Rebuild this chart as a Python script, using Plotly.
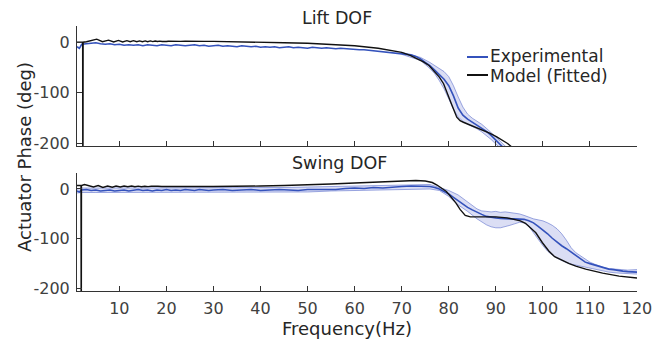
import plotly.graph_objects as go
from plotly.subplots import make_subplots

# ---------------- data ----------------
# Lift DOF, experimental (mean)
lift_exp_f = [1, 1.5, 2, 3, 4, 5, 6, 7, 8, 9, 10, 11, 12, 13, 14, 15, 16, 17, 18, 19, 20,
              21, 22, 23, 24, 25, 26, 27, 28, 29, 30, 31, 32, 33, 34, 35, 36, 37, 38, 39, 40,
              41, 42, 43, 44, 45, 46, 47, 48, 49, 50, 51, 52, 53, 54, 55, 56, 57, 58, 59, 60,
              61, 62, 63, 64, 65, 66, 67, 68, 69, 70, 71, 72, 73, 74, 75, 76, 77, 78, 79, 80,
              81, 82, 83, 84, 85, 86, 87, 88, 89, 90, 91, 92]
lift_exp_v = [-9, -12, -4, -3, -2, -1, -3, -4, -3, -5, -4, -6, -5, -6, -5, -7, -5, -6, -7, -5, -6,
              -7, -5, -6, -7, -6, -5, -7, -6, -8, -7, -6, -8, -7, -8, -9, -7, -8, -9, -8, -10,
              -9, -10, -9, -11, -10, -9, -11, -10, -11, -12, -10, -11, -12, -11, -12, -13, -12, -13, -14, -14,
              -15, -15, -16, -17, -17, -18, -19, -20, -21, -22, -23, -25, -28, -33, -40, -46, -55, -64, -73, -86,
              -106, -130, -144, -152, -158, -163, -169, -176, -184, -193, -203, -212]
# Lift DOF, experimental spread
lift_band_f = [70, 74, 76, 77, 78, 79, 80, 81, 82, 83, 84, 85, 86, 87, 88, 89, 90, 91, 92, 93]
lift_band_hi = [-20, -30, -40, -46, -52, -58, -68, -86, -108, -128, -142, -150, -156, -162, -170, -178, -187, -196, -205, -214]
lift_band_lo = [-24, -36, -52, -62, -76, -92, -112, -132, -148, -156, -162, -166, -171, -177, -184, -192, -201, -210, -218, -226]
# Lift DOF, fitted model
lift_mod_f = [1.0, 2.2, 2.25, 2.3, 3, 4, 5.2, 6.4, 7.7, 8.8, 9.8, 10.7, 11.6, 12.3, 13.0, 13.7, 14.3,
              14.9, 15.5, 16.0, 16.6, 17.1, 17.6, 18.1, 18.6, 19.1, 19.5, 20.0, 20.4, 21, 22, 23, 24,
              25, 26, 27, 28, 30, 35, 40, 45, 50, 55, 60, 65, 70, 71.8, 73, 74.6, 75.8, 76.8, 78,
              78.9, 79.9, 80.7, 81.7, 82.4, 83.1, 84.6, 86.0, 87.4, 88.8, 90.2, 91.6, 92.5, 93.4, 94]
lift_mod_v = [0, 0, -400, 0, 1, 3, 6, 1, 4, 0.5, 3.5, 0.5, 3, 1, 3, 1, 2.5,
              1, 2.5, 1, 2.5, 1.2, 2.3, 1.3, 2.2, 1.4, 2.1, 1.5, 2, 1.6, 2, 1.6, 1.9,
              1.6, 1.8, 1.6, 1.7, 1.6, 1.2, 0, -1, -2, -4, -7, -12, -20, -26, -31, -39, -46, -56, -69,
              -82, -108, -125, -148, -155, -158, -164, -169, -174, -180, -187, -194, -200, -207, -212]

# Swing DOF, experimental (mean)
swing_exp_f = [1, 1.5, 2, 3, 4, 5, 6, 7, 8, 9, 10, 11, 12, 13, 14, 15, 16, 17, 18, 19, 20,
               21, 22, 23, 24, 25, 26, 27, 28, 29, 30, 32, 34, 36, 38, 40, 42, 44, 46, 48, 50,
               52, 54, 56, 58, 60, 62, 64, 66, 68, 70, 72, 74, 76, 77, 78, 79, 80,
               81, 82, 83, 84, 85, 86, 87, 88, 89, 90, 91, 92, 93, 94, 95, 96, 97, 98, 99, 100,
               101, 102, 103, 104, 105, 106, 107, 108, 109, 110, 111, 112, 113, 114, 115, 116, 117, 118, 119, 120]
swing_exp_v = [-4, -6, -2, -1, -3, -2, -4, -3, -2, -4, -3, -2, -4, -3, -1, -3, -2, -4, -2, -3, -1,
               -3, -2, -3, -1, -2, -3, -1, -2, -3, -2, -1, -3, -2, -1, -3, -2, -1, -2, -3, -1,
               -1, 0, -1, 1, 2, 1, 3, 2, 4, 5, 6, 6, 5, 3, 0, -5, -10,
               -17, -24, -30, -37, -42, -47, -51, -55, -57, -58, -59, -60, -60, -60, -60, -61, -64, -68, -75, -82,
               -90, -99, -107, -114, -120, -127, -133, -140, -147, -150, -153, -156, -159, -161, -162, -164, -165, -166, -166, -167]
# Swing DOF, experimental spread
swing_band_f = [1, 2, 5, 10, 15, 20, 25, 30, 35, 40, 45, 50, 55, 60, 65, 70, 74, 76, 78, 80,
                82, 84, 86, 87, 88, 89, 90, 91, 92, 93, 94, 95, 96, 97, 98, 99, 100,
                101, 102, 103, 104, 105, 106, 107, 108, 109, 110, 111, 112, 113, 114, 116, 118, 120]
swing_band_hi = [0, 2, 2, 2, 3, 3, 2, 3, 3, 3, 3, 4, 5, 6, 7, 9, 10, 9, 3, -3,
                 -12, -26, -40, -44, -45, -46, -45, -47, -46, -47, -48, -50, -53, -57, -60, -62, -64,
                 -68, -73, -80, -90, -103, -118, -128, -134, -141, -147, -151, -155, -158, -160, -162, -163, -162]
swing_band_lo = [-8, -7, -7, -7, -7, -6, -7, -6, -7, -6, -6, -6, -4, -3, -2, 0, 1, 0, -3, -15,
                 -32, -45, -60, -66, -72, -76, -78, -78, -76, -73, -70, -67, -68, -75, -88, -102, -114,
                 -125, -133, -139, -144, -148, -151, -153, -156, -158, -160, -162, -164, -165, -167, -169, -170, -171]
# Swing DOF, fitted model
swing_mod_f = [1.0, 1.85, 1.9, 1.95, 2.6, 3.5, 4.5, 5.5, 6.5, 7.5, 8.5, 9.3, 10.2, 11, 11.8, 12.6, 13.3,
               14, 14.7, 15.4, 16.1, 16.8, 17.5, 18.2, 19, 20, 25, 30, 35, 40, 45, 50, 55, 60, 65, 70,
               73, 75, 76.5, 77.5, 78.5, 79.5, 80.3, 81.5, 82.4, 83.5, 84.6, 86, 88.8, 90, 92.4, 94,
               95.2, 96.3, 97.3, 98.5, 99.9, 101.3, 102.5, 103.5, 105.6, 107, 109.1, 112.7, 116.2, 120]
swing_mod_v = [7, 7, -400, 7, 9, 6, 4, 7, 3, 6, 3.5, 6, 4, 6, 4.5, 6, 4.5,
               5.8, 4.6, 5.6, 4.7, 5.5, 4.8, 5.4, 5, 5.2, 5, 5, 5, 6, 7, 8, 10, 12, 14, 16,
               17, 16, 13, 8, 2, -5, -14, -28, -41, -53, -56, -56, -56, -56, -58, -61,
               -64, -69, -77, -88, -108, -125, -136, -141, -150, -155, -161, -169, -175, -179]

x_ticks = [10, 20, 30, 40, 50, 60, 70, 80, 90, 100, 110, 120]
y_ticks = [0, -100, -200]
y_tick_text = ["0", "-100", "-200"]
panel_titles = ["Lift DOF", "Swing DOF"]
legend_names = ["Experimental", "Model (Fitted)"]

# ---------------- figure ----------------
BLUE = "rgb(52,82,188)"
BAND_FILL = "rgba(125,135,215,0.28)"
BAND_EDGE = "rgba(80,100,200,0.55)"
BLACK = "#111111"
AX = "#333333"
FONT = "DejaVu Sans"
TXT = "#262626"

fig = make_subplots(rows=2, cols=1, shared_xaxes=False, vertical_spacing=0.1)

panels = [
    (lift_band_f, lift_band_hi, lift_band_lo, lift_exp_f, lift_exp_v, lift_mod_f, lift_mod_v),
    (swing_band_f, swing_band_hi, swing_band_lo, swing_exp_f, swing_exp_v, swing_mod_f, swing_mod_v),
]
for i, (bf, bh, bl, ef, ev, mf, mv) in enumerate(panels, start=1):
    fig.add_trace(go.Scatter(x=bf, y=bh, mode="lines", line=dict(color=BAND_EDGE, width=1),
                             showlegend=False, hoverinfo="skip"), row=i, col=1)
    fig.add_trace(go.Scatter(x=bf, y=bl, mode="lines", line=dict(color=BAND_EDGE, width=1),
                             fill="tonexty", fillcolor=BAND_FILL,
                             showlegend=False, hoverinfo="skip"), row=i, col=1)
    fig.add_trace(go.Scatter(x=ef, y=ev, mode="lines", line=dict(color=BLUE, width=1.6),
                             name=legend_names[0], showlegend=False), row=i, col=1)
    fig.add_trace(go.Scatter(x=mf, y=mv, mode="lines", line=dict(color=BLACK, width=1.4),
                             name=legend_names[1], showlegend=False), row=i, col=1)

axis_common = dict(showline=True, linecolor=AX, linewidth=1, ticks="inside", ticklen=5,
                   tickcolor=AX, tickwidth=1, showgrid=False, zeroline=False, mirror=False,
                   tickfont=dict(family=FONT, size=16, color="#404040"))
for i in (1, 2):
    fig.update_xaxes(range=[1, 120], tickvals=x_ticks, showticklabels=(i == 2),
                     ticklabelstandoff=3, **axis_common, row=i, col=1)
    fig.update_yaxes(range=[-205, 32], tickvals=y_ticks, ticktext=y_tick_text,
                     ticklabelstandoff=3, **axis_common, row=i, col=1)

# the page adds an 8px body margin, so the figure is 8px smaller and shifted
fig.update_layout(
    width=662, height=337,
    margin=dict(l=69, r=33, t=18, b=54),
    paper_bgcolor="white", plot_bgcolor="white",
    showlegend=False,
    font=dict(family=FONT, color=TXT),
)
fig.layout.yaxis.domain = [0.547, 1.0]
fig.layout.yaxis2.domain = [0.0, 0.445]


def px(x):
    return (x - 77) / 560.0


def py(y):
    return (291 - y) / 265.0


def label(text, x, y, xanchor="center", angle=0, size=18):
    return dict(text=text, x=px(x), y=py(y), xref="paper", yref="paper",
                xanchor=xanchor, yanchor="middle", textangle=angle, showarrow=False,
                font=dict(family=FONT, size=size, color=TXT))


ann = [
    label(panel_titles[0], 337, 18, size=17.5),
    label(panel_titles[1], 339, 163, size=17.5),
    label("Actuator Phase (deg)", 24, 157, angle=-90),
    label("Frequency(Hz)", 347, 328),
    label(legend_names[0], 488, 56.5, xanchor="left", size=17),
    label(legend_names[1], 488, 76.5, xanchor="left", size=17),
]
fig.update_layout(annotations=ann)

fig.add_shape(type="line", xref="paper", yref="paper", x0=px(467), x1=px(488), y0=py(57), y1=py(57),
              line=dict(color=BLUE, width=2))
fig.add_shape(type="line", xref="paper", yref="paper", x0=px(467), x1=px(488), y0=py(75), y1=py(75),
              line=dict(color=BLACK, width=2))

fig.write_html("out.html")
